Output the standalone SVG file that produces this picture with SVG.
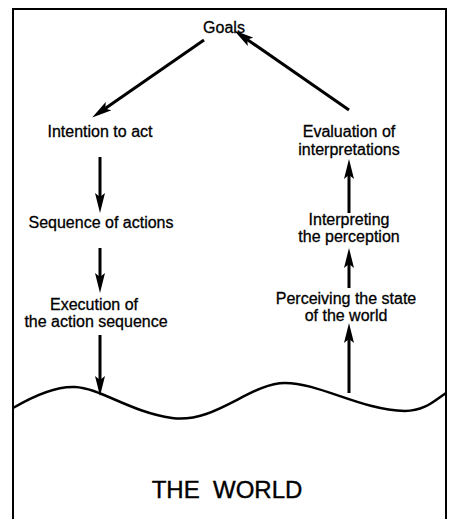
<svg xmlns="http://www.w3.org/2000/svg" width="450" height="519" viewBox="0 0 450 519">
<style>
.lbl{font-family:"Liberation Sans",Arial,sans-serif;font-size:16px;fill:#000;stroke:#000;stroke-width:0.3;text-anchor:middle}
.big{font-family:"Liberation Sans",Arial,sans-serif;font-size:24px;fill:#000;stroke:#000;stroke-width:0.4;text-anchor:middle}
.arr{stroke:#000;stroke-width:3;fill:none;marker-end:url(#ah)}
</style>
<defs>
<marker id="ah" markerUnits="userSpaceOnUse" viewBox="0 0 20 10" markerWidth="20" markerHeight="10" refX="9" refY="5" orient="auto">
<path d="M0,0 L20,5 L0,10 L4,5 Z" fill="#000"/>
</marker>
</defs>
<rect x="13" y="9" width="433" height="520" fill="#fff" stroke="#000" stroke-width="2"/>
<g id="world">
<path d="M13,408 C30,398 55,386 75,387 C100,388 130,412 172,418 C215,424 250,383 285,383 C320,383 360,410 405,411 C425,411 435,400 446,393" fill="none" stroke="#000" stroke-width="2.5"/>
<text class="big" x="227" y="498" xml:space="preserve">THE  WORLD</text>
</g>
<g id="connectors">
<line class="arr" x1="204" y1="40" x2="101.2" y2="111.3"/>
<line class="arr" x1="349" y1="110" x2="243.2" y2="36.7"/>
<line class="arr" x1="100" y1="157" x2="100" y2="202"/>
<line class="arr" x1="100" y1="248" x2="100" y2="282"/>
<line class="arr" x1="100" y1="335" x2="100" y2="385"/>
<line class="arr" x1="349" y1="213" x2="349" y2="170"/>
<line class="arr" x1="349" y1="288" x2="349" y2="259"/>
<line class="arr" x1="349" y1="393" x2="349" y2="334"/>
</g>
<g id="goals"><text class="lbl" x="224" y="33">Goals</text></g>
<g id="intention"><text class="lbl" x="100" y="137">Intention to act</text></g>
<g id="sequence"><text class="lbl" x="101" y="228">Sequence of actions</text></g>
<g id="execution"><text class="lbl" x="94" y="310">Execution of</text><text class="lbl" x="96" y="327">the action sequence</text></g>
<g id="evaluation"><text class="lbl" x="349" y="137">Evaluation of</text><text class="lbl" x="349" y="155">interpretations</text></g>
<g id="interpreting"><text class="lbl" x="349" y="225">Interpreting</text><text class="lbl" x="349" y="242">the perception</text></g>
<g id="perceiving"><text class="lbl" x="346" y="304">Perceiving the state</text><text class="lbl" x="346" y="321">of the world</text></g>
</svg>
